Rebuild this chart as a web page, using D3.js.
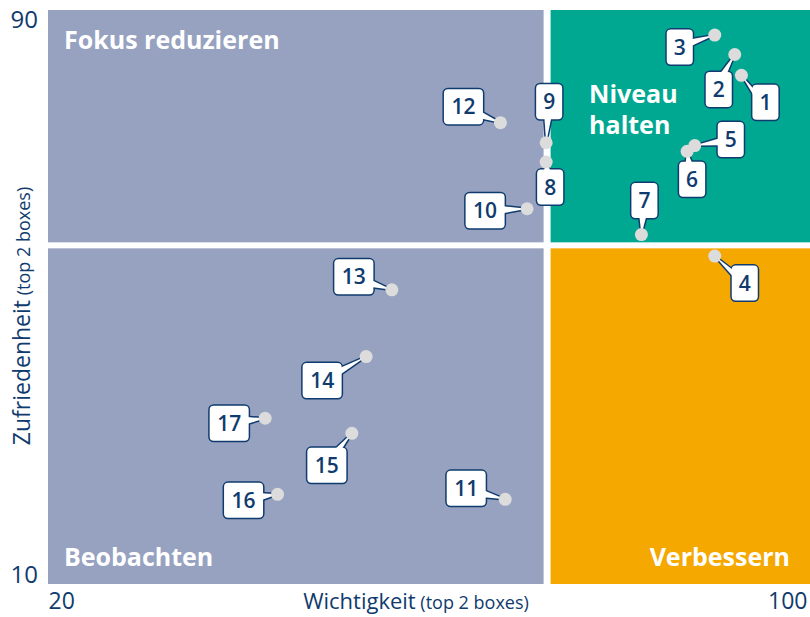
<!DOCTYPE html>
<html>
<head>
<meta charset="utf-8">
<script src="https://cdn.jsdelivr.net/npm/d3@7"></script>
<style>
  html, body { margin: 0; padding: 0; background: #fff; }
  svg { display: block; }
  text { font-family: "Open Sans", "Noto Sans", sans-serif; }
</style>
</head>
<body>
<svg id="chart" width="810" height="617"></svg>
<script>
// Item numbers with importance (x) and satisfaction (y), both in % top 2 boxes
const items        = [1, 2, 3, 4, 5, 6, 7, 8, 9, 10, 11, 12, 13, 14, 15, 16, 17];
const importance   = [92.8, 92.1, 90.0, 90.0, 87.9, 87.1, 82.3, 72.3, 72.3, 70.3, 68.0, 67.5, 56.1, 53.4, 51.9, 44.1, 42.8];
const satisfaction = [80.9, 83.8, 86.5, 55.7, 71.1, 70.3, 58.7, 68.8, 71.5, 62.3, 21.8, 74.3, 51.0, 41.7, 31.0, 22.5, 33.1];

// Quadrant split values
const splitX = 72.4;
const splitY = 57.2;

const xTicks = [20, 100];
const yTicks = [10, 90];
const quadrantNames = ["Fokus reduzieren", "Niveau halten", "Beobachten", "Verbessern"];
const xTitle = ["Wichtigkeit", "(top 2 boxes)"];
const yTitle = ["Zufriedenheit", "(top 2 boxes)"];

// Where each callout box sits relative to its point (pixels)
const calloutOffsets = [
  [24, 27], [-16, 35], [-35, 12], [30, 27], [36, -6], [5, 28], [3, -34],
  [4, 25], [3, -41], [-42, 2], [-39, -11], [-37, -16], [-38, -13],
  [-44, 24], [-25, 32], [-34, 6], [-36, 5]
];

const NAVY = "#0f3b6e";
const colors = { grey: "#97a2c1", green: "#00a891", orange: "#f5a800" };

const svg = d3.select("#chart");
const x = d3.scaleLinear().domain([20, 100]).range([48, 810]);
const y = d3.scaleLinear().domain([10, 90]).range([584, 10]);
const gapX = 3.5, gapY = 3;

// Quadrant backgrounds
const quads = [
  { x0: 20, x1: splitX, y0: splitY, y1: 90, fill: colors.grey },
  { x0: splitX, x1: 100, y0: splitY, y1: 90, fill: colors.green },
  { x0: 20, x1: splitX, y0: 10, y1: splitY, fill: colors.grey },
  { x0: splitX, x1: 100, y0: 10, y1: splitY, fill: colors.orange }
];
svg.append("g").selectAll("rect").data(quads).join("rect")
  .attr("x", d => x(d.x0) + (d.x0 === splitX ? gapX : 0))
  .attr("y", d => y(d.y1) + (d.y1 === splitY ? gapY : 0))
  .attr("width", d => x(d.x1) - x(d.x0) - gapX)
  .attr("height", d => y(d.y0) - y(d.y1) - gapY)
  .attr("fill", d => d.fill);

// Quadrant names
const qText = svg.append("g").attr("fill", "#fff").attr("font-weight", 700).attr("font-size", 25);
qText.append("text").attr("x", x(20) + 16).attr("y", 49).text(quadrantNames[0]);
const nh = qText.append("text").attr("x", x(splitX) + 42).attr("y", 103);
nh.append("tspan").text(quadrantNames[1].split(" ")[0]);
nh.append("tspan").attr("x", x(splitX) + 42).attr("dy", 31).text(quadrantNames[1].split(" ")[1]);
qText.append("text").attr("x", x(20) + 16).attr("y", 566).text(quadrantNames[2]);
qText.append("text").attr("x", x(100) - 20).attr("y", 566).attr("text-anchor", "end").text(quadrantNames[3]);

// Axes: only the end values are shown
const xAxis = svg.append("g").attr("transform", `translate(0,${y(10)})`)
  .call(d3.axisBottom(x).tickValues(xTicks).tickSize(0).tickFormat(d3.format("d")));
xAxis.select(".domain").remove();
xAxis.selectAll("text")
  .attr("fill", NAVY).attr("font-size", 23).attr("font-family", "'Open Sans', sans-serif")
  .attr("dy", 0).attr("y", 25)
  .attr("text-anchor", (d, i) => i === 0 ? "start" : "end")
  .attr("dx", (d, i) => i === 0 ? 0 : -3);

const yAxis = svg.append("g").attr("transform", `translate(${x(20)},0)`)
  .call(d3.axisLeft(y).tickValues(yTicks).tickSize(0).tickFormat(d3.format("d")));
yAxis.select(".domain").remove();
yAxis.selectAll("text")
  .attr("fill", NAVY).attr("font-size", 24).attr("font-family", "'Open Sans', sans-serif")
  .attr("x", -10).attr("dy", d => d === 90 ? "0.72em" : "-0.05em")
  .attr("text-anchor", "end");

// Axis titles
const xt = svg.append("text").attr("x", 416).attr("y", 609).attr("text-anchor", "middle").attr("fill", NAVY);
xt.append("tspan").attr("font-size", 22).text(xTitle[0]);
xt.append("tspan").attr("font-size", 18).text(" " + xTitle[1]);
const yt = svg.append("text").attr("transform", `translate(30,316) rotate(-90)`)
  .attr("text-anchor", "middle").attr("fill", NAVY);
yt.append("tspan").attr("font-size", 23).text(yTitle[0]);
yt.append("tspan").attr("font-size", 18).text(" " + yTitle[1]);

// Callouts
const data = items.map((id, i) => ({
  id, px: x(importance[i]), py: y(satisfaction[i]),
  dx: calloutOffsets[i][0], dy: calloutOffsets[i][1]
}));

function boxOf(d) {
  const w = String(d.id).length > 1 ? 39 : 26, h = 35;
  const cx = d.px + d.dx, cy = d.py + d.dy;
  return { x0: cx - w / 2, y0: cy - h / 2, w, h, cx, cy };
}

function tailPath(d) {
  const b = boxOf(d);
  const vx = d.px - b.cx, vy = d.py - b.cy;
  const sx = Math.abs(vx) > 0 ? (b.w / 2) / Math.abs(vx) : Infinity;
  const sy = Math.abs(vy) > 0 ? (b.h / 2) / Math.abs(vy) : Infinity;
  const half = 3.5, r = 5;
  let p1, p2;
  if (sx < sy) {
    const ex = b.cx + vx * sx;
    let ey = b.cy + vy * sx;
    ey = Math.max(b.y0 + r + half, Math.min(b.y0 + b.h - r - half, ey));
    const inset = vx > 0 ? -2 : 2;
    p1 = [ex + inset, ey - half]; p2 = [ex + inset, ey + half];
  } else {
    let ex = b.cx + vx * sy;
    const ey = b.cy + vy * sy;
    ex = Math.max(b.x0 + r + half, Math.min(b.x0 + b.w - r - half, ex));
    const inset = vy > 0 ? -2 : 2;
    p1 = [ex - half, ey + inset]; p2 = [ex + half, ey + inset];
  }
  return `M${p1[0]},${p1[1]}L${d.px},${d.py}L${p2[0]},${p2[1]}Z`;
}

const call = svg.append("g").selectAll("g").data(data).join("g");
// outline layer
call.append("path").attr("d", tailPath)
  .attr("fill", "#fff").attr("stroke", NAVY).attr("stroke-width", 3).attr("stroke-linejoin", "round");
call.append("rect")
  .attr("x", d => boxOf(d).x0).attr("y", d => boxOf(d).y0)
  .attr("width", d => boxOf(d).w).attr("height", d => boxOf(d).h)
  .attr("rx", 4).attr("fill", "#fff").attr("stroke", NAVY).attr("stroke-width", 3);
// fill layer hides inner half of the strokes so the bubble reads as one shape
call.append("path").attr("d", tailPath).attr("fill", "#fff");
call.append("rect")
  .attr("x", d => boxOf(d).x0).attr("y", d => boxOf(d).y0)
  .attr("width", d => boxOf(d).w).attr("height", d => boxOf(d).h)
  .attr("rx", 4).attr("fill", "#fff");
call.append("text")
  .attr("x", d => boxOf(d).cx).attr("y", d => boxOf(d).cy + 7.5)
  .attr("text-anchor", "middle").attr("fill", NAVY)
  .attr("font-size", 21).attr("font-weight", 600)
  .text(d => d.id);

// Points
svg.append("g").selectAll("circle").data(data).join("circle")
  .attr("cx", d => d.px).attr("cy", d => d.py).attr("r", 6.5)
  .attr("fill", "#dcdcdc");
</script>
</body>
</html>
